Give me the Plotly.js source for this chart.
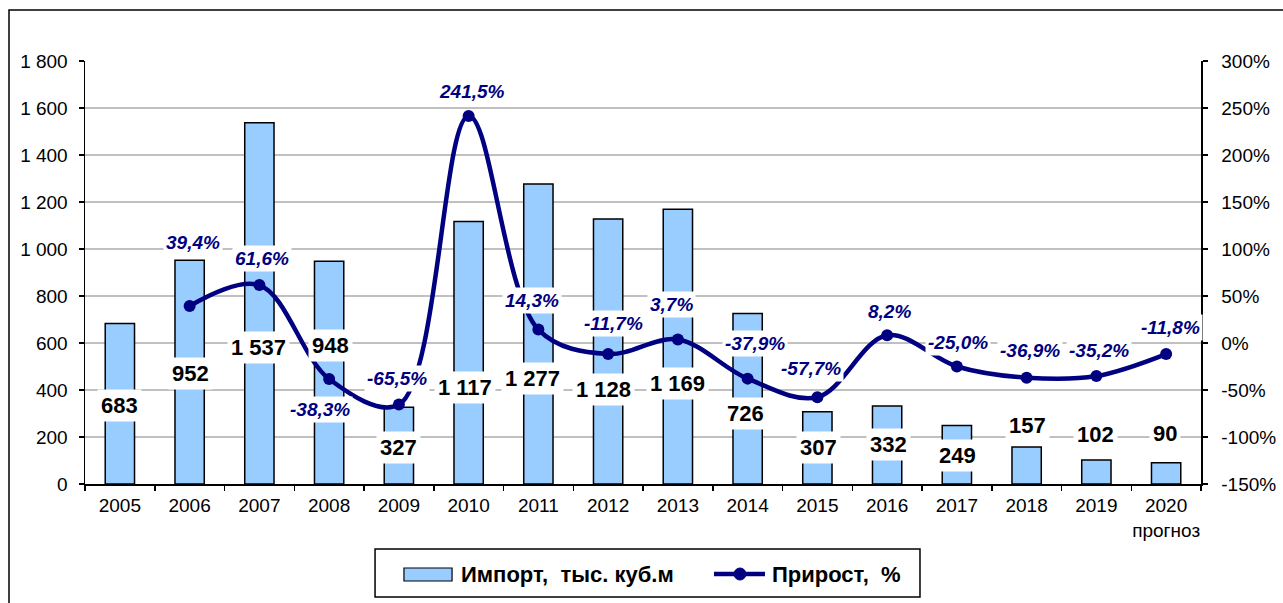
<!DOCTYPE html>
<html><head><meta charset="utf-8">
<script src="https://cdn.plot.ly/plotly-3.0.1.min.js"></script>
<style>html,body{margin:0;padding:0;background:#fff;}#chart{width:1283px;height:603px;}</style>
</head><body><div id="chart"></div>
<script>
const years = ['2005','2006','2007','2008','2009','2010','2011','2012','2013','2014','2015','2016','2017','2018','2019','2020'];
const yearTickText = ['2005','2006','2007','2008','2009','2010','2011','2012','2013','2014','2015','2016','2017','2018','2019','2020<br>прогноз'];
const importVals = [683, 952, 1537, 948, 327, 1117, 1277, 1128, 1169, 726, 307, 332, 249, 157, 102, 90];
const growthVals = [null, 39.4, 61.6, -38.3, -65.5, 241.5, 14.3, -11.7, 3.7, -37.9, -57.7, 8.2, -25.0, -36.9, -35.2, -11.8];
const leftTicks = [0, 200, 400, 600, 800, 1000, 1200, 1400, 1600, 1800];
const rightTicks = [-150, -100, -50, 0, 50, 100, 150, 200, 250, 300];

// label placement (layout only)
const importLabelY = [336, 472, 579, 591, 157, 409, 447, 404, 426, 302, 157, 166, 123, 247, 209, 217];
const importLabelDx = [0, 1, -1, 1, 0, -4, -6, -5, 0, -2, 1, 1, 1, 1, -1, -1];
const growthLabelY = [null, 107, 90, -71, -38, 268, 45, 21, 41, 0, -27, 34, 1, -8, -8, 16];
const growthLabelDx = [0, 3, 3, -9, -2, 3, -6, 5, -6, 7, -6, 2, 1, 3, 3, 4];

const FONT = 'Liberation Sans, Arial, sans-serif';
function fmtThousands(v){ return String(v).replace(/\B(?=(\d{3})+(?!\d))/g, ' '); }
function fmtPct(v){ return v.toFixed(1).replace('.', ',') + '%'; }

const traces = [
  {type:'bar', x: years, y: importVals, name:'Импорт, тыс. куб.м', width:0.42,
   marker:{color:'#99CCFF', line:{color:'#000000', width:1.5}}, hoverinfo:'skip', showlegend:false},
  {type:'scatter', mode:'lines+markers', x: years, y: growthVals, yaxis:'y2', name:'Прирост, %',
   line:{color:'#000080', width:4.5, shape:'spline', smoothing:1},
   marker:{color:'#000080', size:12}, connectgaps:false, hoverinfo:'skip', showlegend:false}
];

const annotations = [];
years.forEach((yr, i) => {
  annotations.push({x: i, y: importLabelY[i], xref:'x', yref:'y', xshift: importLabelDx[i],
    text: '<b>' + fmtThousands(importVals[i]) + '</b>',
    showarrow:false, bgcolor:'#ffffff', borderpad:3,
    font:{family:FONT, size:22, color:'#000000'}});
  if (growthVals[i] !== null) {
    annotations.push({x: i, y: growthLabelY[i], xref:'x', yref:'y2', xshift: growthLabelDx[i],
      text: '<b><i>' + fmtPct(growthVals[i]) + '</i></b>',
      showarrow:false, bgcolor:'#ffffff', borderpad:2,
      font:{family:FONT, size:19, color:'#000080'}});
  }
});
annotations.push({xref:'paper', yref:'paper', x:0.3351, y:-0.2128, xanchor:'left', yanchor:'middle',
  text:'<b>Импорт,&nbsp; тыс. куб.м</b>', showarrow:false, font:{family:FONT, size:22, color:'#000'}});
annotations.push({xref:'paper', yref:'paper', x:0.6138, y:-0.2128, xanchor:'left', yanchor:'middle',
  text:'<b>Прирост,&nbsp; %</b>', showarrow:false, font:{family:FONT, size:22, color:'#000'}});

const shapes = [
  {type:'path', xref:'paper', yref:'paper', path:'M -0.0681,-0.4 L -0.0681,1.1206 L 1.2,1.1206', line:{color:'#000', width:1.5}},
  {type:'rect', xref:'paper', yref:'paper', x0:0.2599, x1:0.7482, y0:-0.2671, y1:-0.1537, line:{color:'#000', width:1.5}, fillcolor:'rgba(0,0,0,0)'},
  {type:'rect', xref:'paper', yref:'paper', x0:0.2858, x1:0.3289, y0:-0.2293, y1:-0.1986, line:{color:'#000', width:1.2}, fillcolor:'#99CCFF'},
  {type:'line', xref:'paper', yref:'paper', x0:0.5636, x1:0.6093, y0:-0.2128, y1:-0.2128, line:{color:'#000080', width:4.5}},
  {type:'circle', xref:'paper', yref:'paper', x0:0.5869-0.0054, x1:0.5869+0.0054, y0:-0.2128-0.0142, y1:-0.2128+0.0142,
   line:{color:'#000080', width:1}, fillcolor:'#000080'}
];

const tickCommon = {tickcolor:'#000', tickwidth:1.5, fixedrange:true};
const layout = {
  width:1283, height:603,
  margin:{l:85, r:82, t:61, b:119},
  paper_bgcolor:'#ffffff', plot_bgcolor:'#ffffff',
  font:{family:FONT, size:19, color:'#000'},
  showlegend:false,
  xaxis:Object.assign({type:'category', range:[-0.5, 15.5], autorange:false, categoryorder:'array', categoryarray: years,
    tickvals: years, ticktext: yearTickText, tickson:'boundaries', tickangle:0,
    ticks:'outside', ticklen:5, ticklabelstandoff:4,
    showline:true, linecolor:'#000', linewidth:1.5, showgrid:false, zeroline:false,
    tickfont:{family:FONT, size:19, color:'#000'}}, tickCommon),
  xaxis2:Object.assign({type:'linear', overlaying:'x', side:'bottom', range:[-0.5, 15.5], autorange:false,
    tickvals: years.map((y, i) => i + 0.5).slice(0, years.length - 1), ticks:'inside', ticklen:5,
    showticklabels:false, showgrid:false, zeroline:false, showline:false}, tickCommon),
  yaxis:Object.assign({range:[0,1800], autorange:false, tickvals: leftTicks, ticktext: leftTicks.map(fmtThousands),
    ticks:'outside', ticklen:5, ticklabelstandoff:7,
    showline:true, linecolor:'#000', linewidth:1.5,
    showgrid:true, gridcolor:'#c0c0c0', gridwidth:1.5, zeroline:false,
    tickfont:{family:FONT, size:19, color:'#000'}}, tickCommon),
  yaxis3:Object.assign({range:[0,1800], autorange:false, overlaying:'y', side:'left', tickvals: leftTicks,
    ticks:'inside', ticklen:5, showticklabels:false, showgrid:false, zeroline:false, showline:false}, tickCommon),
  yaxis2:Object.assign({range:[-150,300], autorange:false, overlaying:'y', side:'right', tickvals: rightTicks, ticktext: rightTicks.map(v => v + '%'),
    ticks:'outside', ticklen:5, ticklabelstandoff:10,
    showline:true, linecolor:'#000', linewidth:1.5, showgrid:false, zeroline:false,
    tickfont:{family:FONT, size:19, color:'#000'}}, tickCommon),
  yaxis4:Object.assign({range:[-150,300], autorange:false, overlaying:'y', side:'right', tickvals: rightTicks,
    ticks:'inside', ticklen:5, showticklabels:false, showgrid:false, zeroline:false, showline:false}, tickCommon),
  annotations: annotations,
  shapes: shapes
};

Plotly.newPlot('chart', traces, layout, {displayModeBar:false, staticPlot:true});
</script>
</body></html>
